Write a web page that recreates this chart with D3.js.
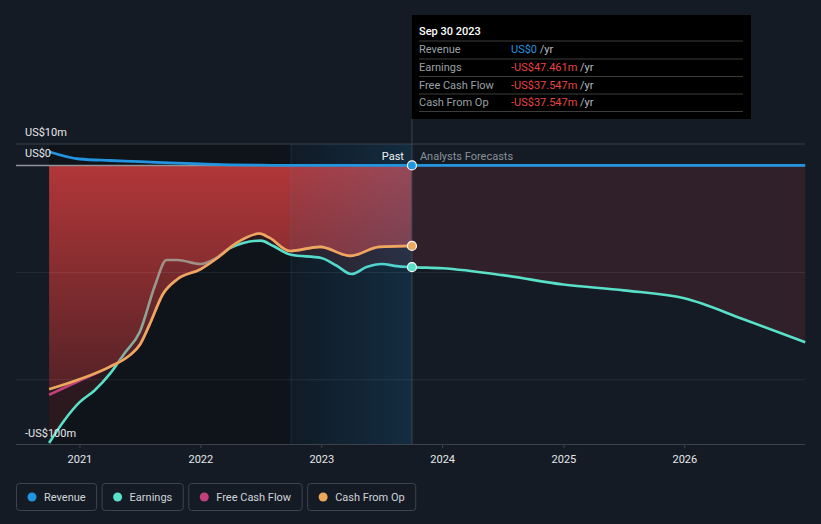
<!DOCTYPE html>
<html><head><meta charset="utf-8">
<script src="https://cdn.jsdelivr.net/npm/d3@7"></script>
<style>
html,body{margin:0;padding:0;background:#151b25;}
svg{display:block;font-family:Roboto,"Noto Sans",sans-serif;}
</style></head>
<body>
<svg id="c" width="821" height="524"></svg>
<script>
// ---------- data ----------
const revenueTimes  = [2020.75,2021.0,2021.25,2021.5,2021.75,2022.0,2022.25,2022.5,2022.75,2023.0,2023.25,2023.5,2023.75,2024.0,2025.0,2026.0,2027.0];
const revenueValues = [6.4,3.0,2.3,1.8,1.2,0.7,0.3,0.1,0,0,0,0,0,0,0,0,0];

const earningsTimes  = [2020.75,2020.875,2021.0,2021.125,2021.25,2021.375,2021.5,2021.625,2021.72,2021.81,2022.0,2022.125,2022.25,2022.5,2022.6,2022.75,2023.0,2023.125,2023.25,2023.375,2023.5,2023.625,2023.75,2024.0,2024.5,2025.0,2025.5,2026.0,2026.5,2027.0];
const earningsValues = [-129.5,-119,-110.6,-105,-97.4,-87.5,-77.6,-56,-44.1,-44.1,-46,-43.4,-38.4,-35.1,-37.5,-41.7,-43.2,-46.7,-50.7,-47.4,-46,-47,-47.461,-48,-51.2,-55.6,-58.3,-62,-72,-82.5];

const cfoTimes  = [2020.75,2021.0,2021.25,2021.42,2021.5,2021.58,2021.69,2021.81,2022.0,2022.14,2022.3,2022.49,2022.57,2022.74,2022.99,2023.24,2023.48,2023.75];
const cfoValues = [-104.5,-99.8,-94,-88.4,-83.7,-74.3,-60.1,-53.1,-48.5,-43.2,-36.1,-31.8,-33.7,-39.9,-38,-42.2,-38,-37.547];
const fcfValues = [-107,-100.5,-94,-88.4,-83.7,-74.3,-60.1,-53.1,-48.5,-43.2,-36.1,-31.8,-33.7,-39.9,-38,-42.2,-38,-37.547];

const xDomain = [2020.477, 2026.998];
const yDomain = [-130, 10];
const yGrid = [10, -50, -100];
const yLabels = [{v:10,t:"US$10m"},{v:0,t:"US$0"},{v:-130,t:"-US$100m"}];
const nowTime = 2023.75;
const highlightStart = 2022.75;

const legendItems = [["Revenue","#2394df"],["Earnings","#58e0c9"],["Free Cash Flow","#c4407d"],["Cash From Op","#eaa95b"]];
const tooltipTitle = "Sep 30 2023";
const tooltipRows = [["Revenue","US$0","#2394df"],["Earnings","-US$47.461m","#e84545"],["Free Cash Flow","-US$37.547m","#e84545"],["Cash From Op","-US$37.547m","#e84545"]];

(function(){
// ---------- helpers ----------
function dec(t){const yr=Math.floor(t);const f=t-yr;const a=Date.UTC(yr,0,1),b=Date.UTC(yr+1,0,1);return new Date(a+f*(b-a));}
const zip=(ts,vs)=>ts.map((t,i)=>({t:dec(t),v:vs[i]}));
const revenue=zip(revenueTimes,revenueValues), earnings=zip(earningsTimes,earningsValues), cfo=zip(cfoTimes,cfoValues), fcf=zip(cfoTimes,fcfValues);

const svg=d3.select("#c");
const L=16,R=805,T=144,B=444;
const x=d3.scaleUtc().domain(xDomain.map(dec)).range([L,R]);
const y=d3.scaleLinear().domain(yDomain).range([B,T]);
const curve=d3.curveMonotoneX;

const defs=svg.append("defs");
const rg=defs.append("linearGradient").attr("id","redg").attr("gradientUnits","userSpaceOnUse").attr("x1",0).attr("x2",0).attr("y1",y(0)).attr("y2",B);
rg.append("stop").attr("offset",0).attr("stop-color","rgb(230,66,66)").attr("stop-opacity",0.72);
rg.append("stop").attr("offset",1).attr("stop-color","rgb(230,66,66)").attr("stop-opacity",0.1);
const bg=defs.append("linearGradient").attr("id","blueg").attr("x1",0).attr("x2",1).attr("y1",0).attr("y2",0);
bg.append("stop").attr("offset",0).attr("stop-color","#2394df").attr("stop-opacity",0.06);
bg.append("stop").attr("offset",1).attr("stop-color","#2394df").attr("stop-opacity",0.2);

const x0=x(dec(earningsTimes[0])), xNow=x(dec(nowTime)), xHi=x(dec(highlightStart));

// dark past rect
svg.append("rect").attr("x",x0).attr("y",T).attr("width",xNow-x0).attr("height",B-T).attr("fill","#000").attr("opacity",0.28);

// earnings dim fill
svg.append("path").datum(earnings).attr("d",d3.area().x(d=>x(d.t)).y0(y(0)).y1(d=>y(d.v)).curve(curve)).attr("fill","rgba(230,66,66,0.13)");

// earnings line (under cash fill)
const line=d3.line().x(d=>x(d.t)).y(d=>y(d.v)).curve(curve);
svg.append("path").datum(earnings).attr("d",line).attr("fill","none").attr("stroke","#58e0c9").attr("stroke-width",2.6);

// cash from op fill
svg.append("path").datum(cfo).attr("d",d3.area().x(d=>x(d.t)).y0(y(0)).y1(d=>y(d.v)).curve(curve)).attr("fill","url(#redg)");

// highlight last year
svg.append("rect").attr("x",xHi).attr("y",T).attr("width",xNow-xHi).attr("height",B-T).attr("fill","url(#blueg)");
svg.append("line").attr("x1",xHi).attr("x2",xHi).attr("y1",T).attr("y2",B).attr("stroke","#2394df").attr("stroke-opacity",0.18);

// gridlines
yGrid.forEach(v=>{
  svg.append("line").attr("x1",L).attr("x2",R).attr("y1",y(v)).attr("y2",y(v))
    .attr("stroke",v===10?"#39404a":"rgba(255,255,255,0.08)").attr("stroke-width",1);
});
// zero line
svg.append("line").attr("x1",L).attr("x2",R).attr("y1",y(0)).attr("y2",y(0)).attr("stroke","#8e939a").attr("stroke-width",1.5);

// x axis
const xAxis=svg.append("g").attr("transform",`translate(0,${B})`).call(d3.axisBottom(x).ticks(d3.utcYear.every(1)).tickFormat(d3.utcFormat("%Y")).tickSize(4).tickSizeOuter(0));
xAxis.select(".domain").attr("stroke","#3b424c").attr("d",`M${L},0.5H${R}`);
xAxis.selectAll(".tick line").attr("stroke","#3b424c");
xAxis.selectAll(".tick text").attr("fill","#e6e8ea").attr("font-size",11).attr("dy","1.1em").attr("font-family","Roboto,sans-serif");

// now vertical line
svg.append("line").attr("x1",xNow).attr("x2",xNow).attr("y1",119).attr("y2",B).attr("stroke","#3a4654").attr("stroke-width",1);

// lines
svg.append("path").datum(revenue).attr("d",line).attr("fill","none").attr("stroke","#2394df").attr("stroke-width",2.8);
svg.append("path").datum(fcf).attr("d",line).attr("fill","none").attr("stroke","#c4407d").attr("stroke-width",2.6);
svg.append("path").datum(cfo).attr("d",line).attr("fill","none").attr("stroke","#eaa95b").attr("stroke-width",2.6);

// markers
[[revenue,"#2394df"],[earnings,"#58e0c9"],[cfo,"#eaa95b"]].forEach(([s,c])=>{
  const p=s.find(d=>+d.t===+dec(nowTime));
  svg.append("circle").attr("cx",x(p.t)).attr("cy",y(p.v)).attr("r",4.5).attr("fill",c).attr("stroke","#fff").attr("stroke-width",1.2);
});

// y labels
yLabels.forEach(l=>{
  const yy = l.v===yDomain[0] ? y(l.v)-7 : y(l.v)-8;
  svg.append("text").attr("x",25).attr("y",yy).attr("fill","#e6e8ea").attr("font-size",11).text(l.t);
});

// past / forecast labels
svg.append("text").attr("x",xNow-8).attr("y",160).attr("text-anchor","end").attr("fill","#f0f2f4").attr("font-size",11).text("Past");
svg.append("text").attr("x",xNow+8).attr("y",160).attr("fill","#8a9098").attr("font-size",11).text("Analysts Forecasts");

// tooltip
const tt=svg.append("g");
tt.append("rect").attr("x",xNow).attr("y",15).attr("width",339).attr("height",104).attr("fill","#000");
tt.append("text").attr("x",419).attr("y",35).attr("fill","#fff").attr("font-size",11).attr("font-weight",500).text(tooltipTitle);
const rowLines=[41,59,76.5,94,111.5];
rowLines.forEach(ly=>tt.append("line").attr("x1",419).attr("x2",743).attr("y1",ly).attr("y2",ly).attr("stroke","#3c3c3c").attr("stroke-width",1));
tooltipRows.forEach((r,i)=>{
  const by=rowLines[i]+12;
  tt.append("text").attr("x",419).attr("y",by).attr("fill","#9aa0a6").attr("font-size",11).text(r[0]);
  const t=tt.append("text").attr("x",511).attr("y",by).attr("font-size",11);
  t.append("tspan").attr("fill",r[2]).text(r[1]);
  t.append("tspan").attr("fill","#b8bcc0").text(" /yr");
});

// legend
let lx=16;
legendItems.forEach(([name,col])=>{
  const g=svg.append("g");
  const txt=g.append("text").attr("x",lx+28).attr("y",501).attr("fill","#d0d4d9").attr("font-size",11).text(name);
  const w=txt.node().getComputedTextLength();
  const bw=28+w+10.5;
  g.insert("rect","text").attr("x",lx+0.5).attr("y",483.5).attr("width",bw).attr("height",27).attr("rx",3).attr("fill","none").attr("stroke","#3d444f");
  g.append("circle").attr("cx",lx+16).attr("cy",497).attr("r",4.5).attr("fill",col);
  lx+=bw+5.5;
});
})();
</script>
</body></html>
